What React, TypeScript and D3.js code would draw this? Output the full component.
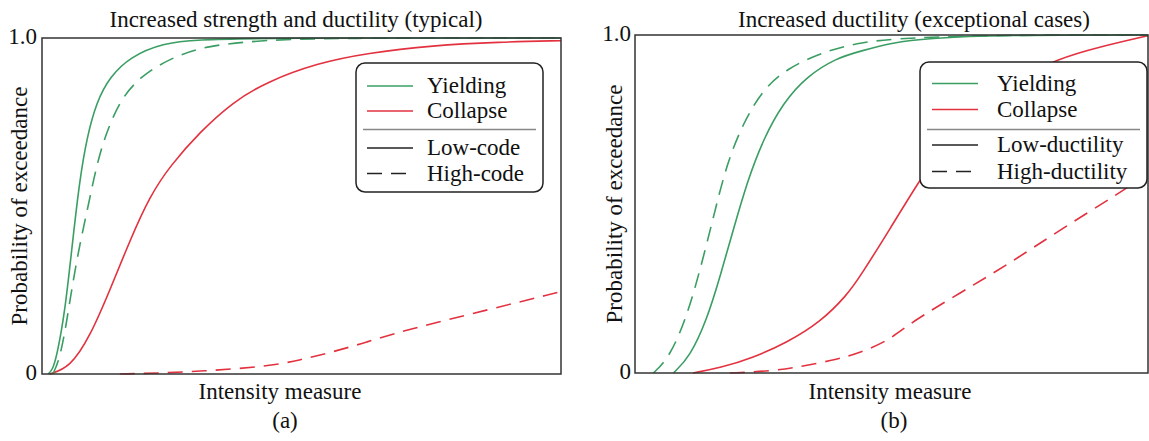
import React from "react";
import * as d3 from "d3";

// curves: [intensity (0..1 of axis), probability]
const aYieldLow: [number, number][] = [
  [0.012, 0], [0.02, 0.012], [0.028, 0.05], [0.044, 0.18], [0.06, 0.41], [0.073, 0.58],
  [0.086, 0.7], [0.105, 0.81], [0.131, 0.885], [0.17, 0.944], [0.233, 0.985],
  [0.299, 0.995], [0.42, 1], [1, 1],
];
const aYieldHigh: [number, number][] = [
  [0.021, 0], [0.033, 0.04], [0.045, 0.13], [0.058, 0.26], [0.072, 0.38], [0.089, 0.5],
  [0.105, 0.62], [0.122, 0.71], [0.15, 0.815], [0.189, 0.885], [0.247, 0.94],
  [0.317, 0.978], [0.433, 0.994], [0.555, 1], [1, 1],
];
const aCollapseLow: [number, number][] = [
  [0.015, 0], [0.054, 0.02], [0.092, 0.11], [0.131, 0.25], [0.17, 0.4], [0.208, 0.53],
  [0.247, 0.62], [0.304, 0.72], [0.368, 0.81], [0.434, 0.87], [0.53, 0.925],
  [0.626, 0.955], [0.753, 0.978], [0.88, 0.988], [1, 0.992],
];
const aCollapseHigh: [number, number][] = [
  [0.15, 0], [0.23, 0.003], [0.304, 0.008], [0.434, 0.022], [0.498, 0.042], [0.561, 0.066],
  [0.626, 0.095], [0.69, 0.126], [0.819, 0.176], [1, 0.245],
];

const bYieldLow: [number, number][] = [
  [0.075, 0], [0.107, 0.048], [0.14, 0.157], [0.166, 0.286], [0.192, 0.426], [0.218, 0.563],
  [0.25, 0.692], [0.289, 0.8], [0.335, 0.878], [0.393, 0.932], [0.439, 0.952],
  [0.503, 0.978], [0.569, 0.99], [0.71, 1], [1, 1],
];
const bYieldHigh: [number, number][] = [
  [0.036, 0], [0.068, 0.048], [0.101, 0.167], [0.127, 0.305], [0.153, 0.462], [0.179, 0.62],
  [0.211, 0.74], [0.25, 0.84], [0.296, 0.9], [0.361, 0.947], [0.439, 0.98],
  [0.536, 0.992], [0.71, 1], [1, 1],
];
const bCollapseLow: [number, number][] = [
  [0.113, 0], [0.166, 0.015], [0.23, 0.045], [0.296, 0.09], [0.361, 0.15], [0.413, 0.23],
  [0.439, 0.286], [0.497, 0.426], [0.556, 0.574], [0.614, 0.7], [0.692, 0.8],
  [0.75, 0.87], [0.822, 0.929], [0.906, 0.965], [1, 0.998],
];
const bCollapseHigh: [number, number][] = [
  [0.185, 0], [0.263, 0.005], [0.327, 0.02], [0.393, 0.04], [0.439, 0.06], [0.497, 0.098],
  [0.536, 0.148], [0.634, 0.237], [0.731, 0.325], [0.828, 0.423], [0.945, 0.533], [1, 0.59],
];

const yTicks = [0, 1];
const yTickLabels = ["0", "1.0"];
const damageStates = ["Yielding", "Collapse"];
const aDesigns = ["Low-code", "High-code"];
const bDesigns = ["Low-ductility", "High-ductility"];

const GREEN = "#3a9e63";
const RED = "#e3323f";
const DASH = "15,9";
const SERIF = '"Liberation Serif"';
const FS = 23;

type Panel = {
  left: number; right: number; top: number; bottom: number;
  title: string; titleX: number; xLabelX: number; tag: string; tagX: number;
  yLabelX: number; tickGap: number;
  curves: { pts: [number, number][]; color: string; dashed: boolean }[];
  legend: { x0: number; x1: number; y0: number; y1: number; lineX: number; textX: number;
    lineYs: number[]; divY: number; designs: string[] };
};

const panels: Panel[] = [
  {
    left: 42, right: 561, top: 38, bottom: 374,
    title: "Increased strength and ductility (typical)", titleX: 296,
    xLabelX: 280, tag: "(a)", tagX: 285, yLabelX: 27, tickGap: 5,
    curves: [
      { pts: aCollapseHigh, color: RED, dashed: true },
      { pts: aCollapseLow, color: RED, dashed: false },
      { pts: aYieldHigh, color: GREEN, dashed: true },
      { pts: aYieldLow, color: GREEN, dashed: false },
    ],
    legend: { x0: 356, x1: 543, y0: 63, y1: 192, lineX: 367, textX: 427,
      lineYs: [86, 111, 148, 173.5], divY: 129.5, designs: aDesigns },
  },
  {
    left: 635, right: 1148, top: 35, bottom: 373,
    title: "Increased ductility (exceptional cases)", titleX: 914,
    xLabelX: 890, tag: "(b)", tagX: 894, yLabelX: 622, tickGap: 4,
    curves: [
      { pts: bCollapseHigh, color: RED, dashed: true },
      { pts: bCollapseLow, color: RED, dashed: false },
      { pts: bYieldHigh, color: GREEN, dashed: true },
      { pts: bYieldLow, color: GREEN, dashed: false },
    ],
    legend: { x0: 920, x1: 1147, y0: 62, y1: 188, lineX: 932, textX: 997,
      lineYs: [83.5, 109.5, 145, 171.5], divY: 129.5, designs: bDesigns },
  },
];

function Label(props: any) {
  const { children, ...rest } = props;
  return (
    <text fontSize={FS} fill="#111" style={{ fontFamily: SERIF }} {...rest}>
      {children}
    </text>
  );
}

function ChartPanel({ p }: { p: Panel }) {
  const x = d3.scaleLinear().domain([0, 1]).range([p.left, p.right]);
  const y = d3.scaleLinear().domain([0, 1]).range([p.bottom, p.top]);
  const line = d3
    .line<[number, number]>()
    .x((d) => x(d[0]))
    .y((d) => y(d[1]))
    .curve(d3.curveBasis);
  const lg = p.legend;
  const legendColors = [GREEN, RED, "#222", "#222"];
  const legendLabels = [...damageStates, ...lg.designs];

  return (
    <g>
      <Label x={p.titleX} y={27} textAnchor="middle">{p.title}</Label>
      <g>
        {p.curves.map((c, i) => (
          <path key={i} d={line(c.pts) || ""} fill="none" stroke={c.color}
            strokeWidth={1.6} strokeDasharray={c.dashed ? DASH : undefined} />
        ))}
      </g>
      <rect x={p.left} y={p.top} width={p.right - p.left} height={p.bottom - p.top}
        fill="none" stroke="#333" strokeWidth={1.5} />
      {yTicks.map((t, i) => (
        <Label key={t} x={p.left - p.tickGap} y={y(t) + 6} textAnchor="end">
          {yTickLabels[i]}
        </Label>
      ))}
      <Label transform={`translate(${p.yLabelX},${(p.top + p.bottom) / 2}) rotate(-90)`}
        textAnchor="middle">Probability of exceedance</Label>
      <Label x={p.xLabelX} y={399} textAnchor="middle">Intensity measure</Label>
      <Label x={p.tagX} y={428} textAnchor="middle">{p.tag}</Label>

      <rect x={lg.x0} y={lg.y0} width={lg.x1 - lg.x0} height={lg.y1 - lg.y0} rx={9}
        fill="#fff" stroke="#222" strokeWidth={1.5} />
      <line x1={lg.x0 + 7} x2={lg.x1 - 7} y1={lg.divY} y2={lg.divY} stroke="#888" strokeWidth={1.3} />
      {legendLabels.map((lab, i) => (
        <g key={lab}>
          <line x1={lg.lineX} x2={lg.lineX + 46} y1={lg.lineYs[i]} y2={lg.lineYs[i]}
            stroke={legendColors[i]} strokeWidth={1.6}
            strokeDasharray={i === 3 ? DASH : undefined} />
          <Label x={lg.textX} y={lg.lineYs[i] + 7}>{lab}</Label>
        </g>
      ))}
    </g>
  );
}

export default function App() {
  return (
    <svg width={1149} height={441} fontFamily={SERIF}
      style={{ position: "absolute", left: 0, top: 0, background: "#fff" }}>
      <style>{`text { font-family: "Liberation Serif", serif; }`}</style>
      <rect width={1149} height={441} fill="#fff" />
      {panels.map((p) => (
        <ChartPanel key={p.tag} p={p} />
      ))}
    </svg>
  );
}
